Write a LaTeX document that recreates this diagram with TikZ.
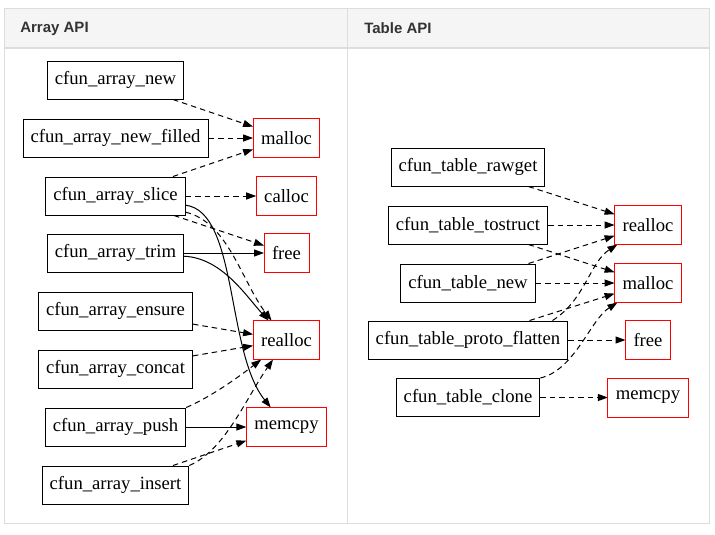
\documentclass[tikz,border=0pt]{standalone}
\usepackage{fontspec}
\setmainfont{Liberation Serif}
\newfontfamily\headfont{Liberation Sans}
\usepackage{tikz}
\usetikzlibrary{arrows.meta}
\definecolor{gridLine}{RGB}{221,221,221}
\definecolor{headFill}{RGB}{245,245,245}
\definecolor{headText}{RGB}{51,51,51}
\definecolor{libRed}{RGB}{255,0,0}

\begin{document}
\begin{tikzpicture}[x=0.6pt, y=-0.6pt,
    fnbox/.style={draw, black, line width=0.6pt, minimum height=22.8pt, inner xsep=4.5pt,
      font=\fontsize{11.2}{13}\selectfont},
    libbox/.style={line width=0.6pt, minimum height=22.8pt, inner xsep=4.5pt,
      font=\fontsize{11.2}{13}\selectfont},
    libframe/.style={libRed, line width=0.6pt},
    headlbl/.style={headText, anchor=west, inner sep=0pt, font=\headfont\bfseries\fontsize{9}{11}\selectfont},
    dep/.style={black, -{Triangle[length=6pt,width=4.2pt]}, line width=0.6pt, dash pattern=on 3.3pt off 2.4pt},
    call/.style={black, -{Triangle[length=6pt,width=4.2pt]}, line width=0.6pt}]
    \useasboundingbox (0,0) rectangle (715,534);
    % table frame
    \fill[headFill] (4,8) rectangle (709,48);
    \draw[gridLine, line width=0.6pt] (4,8) rectangle (709,523);
    \draw[gridLine, line width=1.2pt] (4,48) -- (709,48);
    \draw[gridLine, line width=0.6pt] (347,8) -- (347,523);
    \node[headlbl] (arrhead) at (20,28.5) {Array API};
    \node[headlbl] (tabhead) at (364,28.5) {Table API};
    % array functions
    \foreach \name/\y/\txt in {arrnew/80/cfun\_array\_new, arrfilled/138/cfun\_array\_new\_filled,
        arrslice/196/cfun\_array\_slice, arrtrim/253/cfun\_array\_trim, arrensure/311/cfun\_array\_ensure,
        arrconcat/369/cfun\_array\_concat, arrpush/427/cfun\_array\_push, arrinsert/485/cfun\_array\_insert} {
      \node[fnbox] (\name) at (115.5,\y) {\txt};
    }
    \foreach \name/\y in {malloc/138, calloc/196, free/253, realloc/340, memcpy/427} {
      \node[libbox] (arr\name) at (286.5,\y) {\name};
    }
    % table functions
    \foreach \name/\y/\txt in {tabrawget/167/cfun\_table\_rawget, tabtostruct/225/cfun\_table\_tostruct,
        tabnew/283/cfun\_table\_new, tabflatten/340/cfun\_table\_proto\_flatten, tabclone/397.5/cfun\_table\_clone} {
      \node[fnbox] (\name) at (468,\y) {\txt};
    }
    \foreach \name/\y in {realloc/225, malloc/283, free/340, memcpy/397.5} {
      \node[libbox] (tab\name) at (648,\y) {\name};
    }
    % array calls
    \foreach \a/\b in {arrnew/arrmalloc, arrfilled/arrmalloc, arrslice/arrmalloc, arrslice/arrcalloc,
        arrslice/arrfree, arrensure/arrrealloc, arrconcat/arrrealloc, arrinsert/arrmemcpy} {
      \draw[dep] (\a) -- (\b);
    }
    \draw[call] (arrtrim) -- (arrfree);
    \draw[call] (arrpush) -- (arrmemcpy);
    \draw[dep] (arrslice) .. controls (228,222) and (242,282) .. (arrrealloc);
    \draw[call] (arrslice) .. controls (238,212) and (226,352) .. (arrmemcpy);
    \draw[call] (arrtrim) .. controls (222,258) and (246,296) .. (arrrealloc);
    \draw[dep] (arrpush.north east) .. controls (215,395) and (245,372) .. (arrrealloc);
    \draw[dep] (arrinsert.north east) .. controls (225,450) and (245,400) .. (arrrealloc);
    % table calls
    \foreach \a/\b in {tabrawget/tabrealloc, tabtostruct/tabrealloc, tabtostruct/tabmalloc, tabnew/tabrealloc,
        tabnew/tabmalloc, tabflatten/tabmalloc, tabflatten/tabfree, tabclone/tabmemcpy} {
      \draw[dep] (\a) -- (\b);
    }
    \draw[dep] (tabflatten.13) .. controls (585,300) and (590,262) .. (tabrealloc);
    \draw[dep] (tabclone.north east) .. controls (575,370) and (590,320) .. (tabmalloc);
    % red frames of the library calls, on top
    \foreach \n in {arrmalloc, arrcalloc, arrfree, arrrealloc, arrmemcpy, tabrealloc, tabmalloc, tabfree, tabmemcpy} {
      \draw[libframe] (\n.south west) rectangle (\n.north east);
    }
\end{tikzpicture}
\end{document}
